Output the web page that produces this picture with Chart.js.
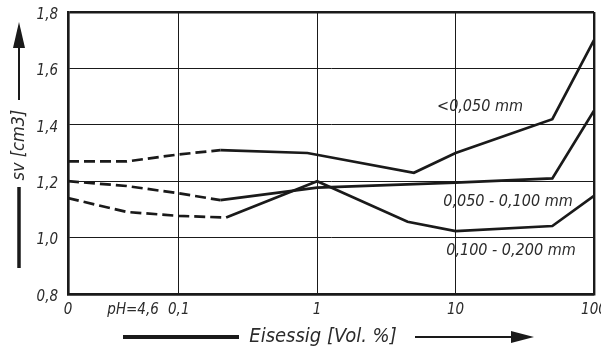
<!DOCTYPE html>
<html>
<head>
<meta charset="utf-8">
<script src="https://cdn.jsdelivr.net/npm/chart.js@4.4.0/dist/chart.umd.min.js"></script>
<style>
  body { margin: 0; background: #fff; }
  #chart { display: block; }
</style>
</head>
<body>
<canvas id="chart" width="601" height="350"></canvas>
<script>
// Eisessig [Vol. %] -> sv [cm3], drei Korngrößen
const acidA = [0, 0.042, 0.1, 0.2, 0.85, 5, 10, 50, 100];
const svA   = [1.27, 1.27, 1.295, 1.31, 1.30, 1.23, 1.30, 1.42, 1.70];

const acidB = [0, 0.042, 0.1, 0.2, 1, 10, 50, 100];
const svB   = [1.20, 1.183, 1.157, 1.133, 1.177, 1.195, 1.21, 1.45];

const acidC = [0, 0.042, 0.1, 0.22, 1, 4.5, 10, 50, 100];
const svC   = [1.14, 1.091, 1.077, 1.071, 1.20, 1.056, 1.023, 1.041, 1.148];

const seriesLabels = ["<0,050 mm", "0,050 - 0,100 mm", "0,100 - 0,200 mm"];
const xTickValues = [0, 0.1, 1, 10, 100];
const xTickLabels = ["0", "0,1", "1", "10", "100"];
const phLabel = "pH=4,6";
const yMin = 0.8, yMax = 1.8, yStep = 0.2;

// 0 sitzt links vor der log-Teilung
const ZERO_POS = -1.8;
const PH_POS = -1.33;
const DASH_END = 3; // letzter Punkt des gestrichelten Teils

function pos(c) {
  return c === 0 ? ZERO_POS : Math.log10(c);
}

function toPoints(acid, sv) {
  return acid.map((c, i) => ({ x: pos(c), y: sv[i] }));
}

const FONT = '"DejaVu Sans Condensed", "Liberation Sans Narrow", "DejaVu Sans", sans-serif';
const INK = "#1a1a1a";
const TEXT = "#2b2b2b";

function lineDataset(acid, sv) {
  return {
    data: toPoints(acid, sv),
    borderColor: INK,
    borderWidth: 2.7,
    pointRadius: 0,
    tension: 0,
    fill: false,
    segment: {
      borderDash: ctx => ctx.p1DataIndex <= DASH_END ? [11, 5] : undefined
    }
  };
}

const isEdgeX = v => Math.abs(v - ZERO_POS) < 1e-6 || Math.abs(v - 2) < 1e-6;
const isEdgeY = v => Math.abs(v - yMin) < 1e-6 || Math.abs(v - yMax) < 1e-6;

// Beschriftung, Achsentitel, Pfeile
const decorations = {
  id: "decorations",
  afterDraw(chart) {
    const ctx = chart.ctx;
    ctx.save();
    ctx.fillStyle = TEXT;
    ctx.strokeStyle = INK;

    // Kurvenbeschriftung
    ctx.font = "italic 16px " + FONT;
    ctx.textAlign = "center";
    ctx.textBaseline = "middle";
    ctx.fillText(seriesLabels[0], 480, 107);
    ctx.fillText(seriesLabels[1], 508, 202);
    ctx.fillText(seriesLabels[2], 511, 251);

    // y-Titel
    ctx.save();
    ctx.translate(19, 145);
    ctx.rotate(-Math.PI / 2);
    ctx.font = "italic 18px " + FONT;
    ctx.fillText("sv [cm3]", 0, 0);
    ctx.restore();

    ctx.fillStyle = INK;
    ctx.lineCap = "butt";
    ctx.lineWidth = 2;
    ctx.beginPath();
    ctx.moveTo(19, 100);
    ctx.lineTo(19, 44);
    ctx.stroke();
    ctx.beginPath();
    ctx.moveTo(19, 22);
    ctx.lineTo(25, 48);
    ctx.lineTo(13, 48);
    ctx.closePath();
    ctx.fill();

    ctx.lineWidth = 3.5;
    ctx.beginPath();
    ctx.moveTo(19, 187);
    ctx.lineTo(19, 268);
    ctx.stroke();

    // x-Titel
    ctx.fillStyle = TEXT;
    ctx.font = "italic 20px " + FONT;
    ctx.fillText("Eisessig [Vol. %]", 323, 337);

    ctx.fillStyle = INK;
    ctx.lineWidth = 4;
    ctx.beginPath();
    ctx.moveTo(123, 337);
    ctx.lineTo(239, 337);
    ctx.stroke();

    ctx.lineWidth = 2;
    ctx.beginPath();
    ctx.moveTo(415, 337);
    ctx.lineTo(515, 337);
    ctx.stroke();
    ctx.beginPath();
    ctx.moveTo(534, 337);
    ctx.lineTo(511, 331);
    ctx.lineTo(511, 343);
    ctx.closePath();
    ctx.fill();

    ctx.restore();
  }
};

new Chart(document.getElementById("chart"), {
  type: "line",
  data: {
    datasets: [
      lineDataset(acidA, svA),
      lineDataset(acidB, svB),
      lineDataset(acidC, svC)
    ]
  },
  options: {
    responsive: false,
    animation: false,
    events: [],
    layout: { padding: { top: 12, right: 7, left: 0, bottom: 0 } },
    plugins: {
      legend: { display: false },
      tooltip: { enabled: false }
    },
    scales: {
      x: {
        type: "linear",
        min: ZERO_POS,
        max: 2,
        afterBuildTicks: scale => {
          const ticks = xTickValues.map((c, i) => ({ value: pos(c), label: xTickLabels[i] }));
          ticks.splice(1, 0, { value: PH_POS, label: phLabel });
          scale.ticks = ticks;
        },
        afterFit: scale => {
          scale.height = 56;
          scale.paddingLeft = 0;
          scale.paddingRight = 0;
        },
        ticks: {
          autoSkip: false,
          maxRotation: 0,
          padding: 7,
          color: TEXT,
          font: { family: FONT, size: 15, style: "italic" },
          callback: function (v, i, ticks) { return ticks[i].label; }
        },
        grid: {
          drawTicks: false,
          color: ctx => Math.abs(ctx.tick.value - PH_POS) < 1e-6 ? "rgba(0,0,0,0)" : INK,
          lineWidth: ctx => isEdgeX(ctx.tick.value) ? 2.4 : 1
        },
        border: { display: true, color: INK, width: 2.4 }
      },
      y: {
        min: yMin,
        max: yMax,
        afterFit: scale => {
          scale.width = 68;
          scale.paddingTop = 0;
          scale.paddingBottom = 0;
        },
        ticks: {
          stepSize: yStep,
          padding: 10,
          labelOffset: 3,
          color: TEXT,
          font: { family: FONT, size: 15, style: "italic" },
          callback: v => v.toFixed(1).replace(".", ",")
        },
        grid: {
          drawTicks: false,
          color: INK,
          lineWidth: ctx => isEdgeY(ctx.tick.value) ? 2.4 : 1
        },
        border: { display: true, color: INK, width: 2.4 }
      }
    }
  },
  plugins: [decorations]
});
</script>
</body>
</html>
